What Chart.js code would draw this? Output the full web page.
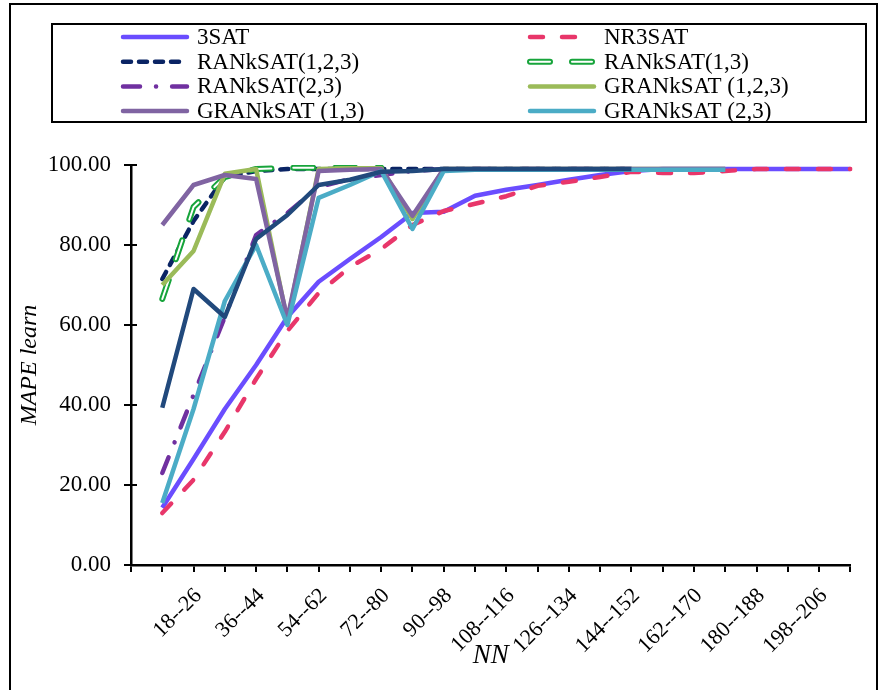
<!DOCTYPE html>
<html>
<head>
<meta charset="utf-8">
<script src="https://cdn.jsdelivr.net/npm/chart.js@4/dist/chart.umd.min.js"></script>
<style>
  html, body { margin: 0; padding: 0; background: #fff; }
  #wrap { position: relative; width: 880px; height: 690px; overflow: hidden; }
  #frame { position: absolute; left: 9px; top: 3px; width: 865px; height: 720px; border: 2px solid #000; }
  canvas { position: absolute; left: 0; top: 0; }
</style>
</head>
<body>
<div id="wrap">
  <div id="frame"></div>
  <canvas id="chart" width="880" height="690"></canvas>
</div>
<script>
// categories (first one is blank, labels shown every other category)
const categories = ['', '9--17', '18--26', '27--35', '36--44', '45--53', '54--62', '63--71',
  '72--80', '81--89', '90--98', '99--107', '108--116', '117--125', '126--134', '135--143',
  '144--152', '153--161', '162--170', '171--179', '180--188', '189--197', '198--206', '207--215'];
const yTicks = [0, 20, 40, 60, 80, 100];

const sat3 = [null, 14.3, 26.5, 39, 50, 62, 70.8, 76.5, 82, 88, 88.3, 92.3, 93.8, 95, 96.3, 97.5, 98.5, 99, 99, 99, 99, 99, 99, 99];
const nr3sat = [null, 13, 21.3, 33.3, 46.5, 58.5, 68, 74.5, 79, 85, 88.5, 90.3, 92.2, 94.8, 95.8, 97, 98.3, 98, 98, 98.5, 99, 99, 99, 99];
const ran123 = [null, 71.5, 86, 97, 98.5, 99, 99, 99, 99, 99, 99, 99, 99, 99, 99, 99, 99, null, null, null, null, null, null, null];
const ran13 = [null, 66.5, 89.5, 97, 99, 99.3, 99.3, 99.3, 99.3, null, null, null, null, null, null, null, null, null, null, null, null, null, null, null];
const ran23 = [null, 23, 42.5, 62, 82.5, 88, 94.5, 96.5, 97.5, 98.5, 99, 99, 99, 99, 99, 99, 99, null, null, null, null, null, null, null];
const gran123 = [null, 70, 78.5, 97.8, 99, 61, 99, 99.2, 99.2, 86.5, 99, 99, 99, 99, 99, 99, 99, 99, 99, 99, null, null, null, null];
const gran13 = [null, 85, 95, 97.5, 96.5, 61.5, 98.5, 98.8, 99, 87.3, 99, 99, 99, 99, 99, 99, 99, 99, 99, 99, null, null, null, null];
const gran23 = [null, 15.5, 39, 66, 80, 60, 91.8, 95, 98.5, 84, 98.5, 98.8, 98.8, 98.8, 98.8, 98.8, 98.8, 98.8, 98.8, 98.8, null, null, null, null];
const extra = [null, 39.3, 69, 62, 81.5, 87.5, 95, 96.3, 98.3, 98.5, 99, 99, 99, 99, 99, 99, 99, null, null, null, null, null, null, null];

const legendNames = ['3SAT', 'NR3SAT', 'RANkSAT(1,2,3)', 'RANkSAT(1,3)', 'RANkSAT(2,3)',
  'GRANkSAT (1,2,3)', 'GRANkSAT (1,3)', 'GRANkSAT (2,3)'];

const serif = '"Liberation Serif", "Times New Roman", serif';

function line(label, data, color, width, dash) {
  return {
    label: label, data: data, borderColor: color, backgroundColor: color,
    borderWidth: width, borderDash: dash || [], borderCapStyle: dash ? 'round' : 'butt',
    borderJoinStyle: 'round', pointRadius: 0, tension: 0, fill: false, spanGaps: false
  };
}

const datasets = [
  line('3SAT', sat3, '#6A4DFF', 4.5),
  line('NR3SAT', nr3sat, '#E8366A', 4.5, [13, 19]),
  line('RANkSAT(1,2,3)', ran123, '#0A2464', 4.5, [8, 8]),
  line('RANkSAT(1,3)', ran13, '#17A43B', 6, [20, 22]),
  Object.assign(line('_inner', ran13, '#FFFFFF', 2, [20, 22]), { inner: true }),
  line('RANkSAT(2,3)', ran23, '#7030A0', 4.5, [17, 16, 0.1, 16]),
  line('GRANkSAT (1,2,3)', gran123, '#9BBB59', 4.5),
  line('GRANkSAT (1,3)', gran13, '#8064A2', 4.5),
  line('GRANkSAT (2,3)', gran23, '#4BACC6', 4.5),
  line('_extra', extra, '#21497C', 4.5)
];
// later series drawn on top, like the original
datasets.forEach((d, i) => { d.order = datasets.length - i; });

const boxLegend = {
  id: 'boxLegend',
  afterDraw(chart) {
    const ctx = chart.ctx;
    ctx.save();
    // y ticks cross the axis a little
    const ys = chart.scales.y, left = chart.chartArea.left;
    ctx.strokeStyle = '#000';
    ctx.lineWidth = 2;
    yTicks.forEach(v => {
      const py = ys.getPixelForValue(v);
      ctx.beginPath();
      ctx.moveTo(left, py);
      ctx.lineTo(left + 6, py);
      ctx.stroke();
    });
    ctx.strokeRect(52, 24, 814, 98);
    ctx.font = '23px ' + serif;
    ctx.textBaseline = 'middle';
    legendNames.forEach((name, k) => {
      const ds = chart.data.datasets.find(d => d.label === name);
      const col = k % 2, row = Math.floor(k / 2);
      const x0 = col ? 527 : 120;
      const y = 37 + row * 24.7;
      const strokes = [ds];
      if (name === 'RANkSAT(1,3)') strokes.push(chart.data.datasets.find(d => d.inner));
      strokes.forEach(s => {
        ctx.beginPath();
        ctx.setLineDash(s.borderDash);
        ctx.lineCap = 'round';
        ctx.lineWidth = s.borderWidth;
        ctx.strokeStyle = s.borderColor;
        ctx.moveTo(x0 + 3, y);
        ctx.lineTo(x0 + 67, y);
        ctx.stroke();
      });
      ctx.setLineDash([]);
      ctx.fillStyle = '#000';
      ctx.fillText(name, x0 + 77, y + 1);
    });
    ctx.restore();
  }
};

new Chart(document.getElementById('chart'), {
  type: 'line',
  data: { labels: categories, datasets: datasets },
  plugins: [boxLegend],
  options: {
    responsive: false,
    animation: false,
    layout: { padding: { top: 165, right: 22, bottom: 0, left: 0 } },
    plugins: { legend: { display: false }, tooltip: { enabled: false } },
    scales: {
      x: {
        type: 'category',
        offset: false,
        grid: { drawOnChartArea: false, color: '#000', lineWidth: 2, tickLength: 7 },
        border: { color: '#000', width: 2.5 },
        ticks: {
          autoSkip: false, minRotation: 45, maxRotation: 45, padding: 11, labelOffset: 5,
          color: '#000', font: { family: serif, size: 22 },
          callback: (v, i) => (i % 2 === 0 ? categories[i] : '')
        },
        title: {
          display: true, text: 'NN', color: '#000',
          font: { family: serif, size: 27, style: 'italic' },
          padding: { top: 0, bottom: 18 }
        },
        afterFit: s => { s.height = 125; }
      },
      y: {
        min: 0, max: 100,
        afterBuildTicks: s => { s.ticks = yTicks.map(v => ({ value: v })); },
        grid: { drawOnChartArea: false, color: '#000', lineWidth: 2, tickLength: 7 },
        border: { color: '#000', width: 2.5 },
        ticks: {
          padding: 13, color: '#000',
          font: { family: serif, size: 23 },
          callback: v => Number(v).toFixed(2)
        },
        title: {
          display: true, text: 'MAPE learn', color: '#000',
          font: { family: serif, size: 24, style: 'italic' },
          padding: { top: 15, bottom: 0 }
        },
        afterFit: s => { s.width = 131; }
      }
    }
  }
});
</script>
</body>
</html>
